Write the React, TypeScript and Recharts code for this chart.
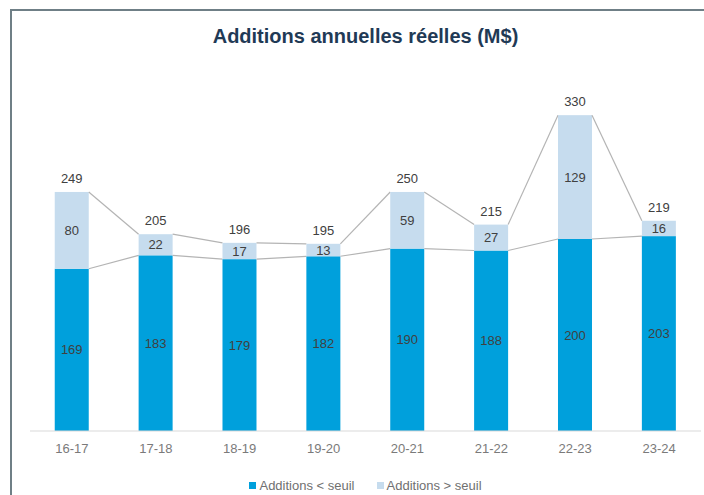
import React from 'react'
import { BarChart, Bar, XAxis, YAxis, LabelList } from 'recharts'

const CATEGORIES = ['16-17', '17-18', '18-19', '19-20', '20-21', '21-22', '22-23', '23-24']
const BELOW = [169, 183, 179, 182, 190, 188, 200, 203]
const ABOVE = [80, 22, 17, 13, 59, 27, 129, 16]
const TOTALS = [249, 205, 196, 195, 250, 215, 330, 219]
const SERIES_NAMES = ['Additions < seuil', 'Additions > seuil']

const W = 704
const H = 495
const MARGIN = { top: 95, right: 3, bottom: 34, left: 30 }
const X_AXIS_H = 30
const Y_MAX = 350
const PLOT_W = W - MARGIN.left - MARGIN.right
const PLOT_H = H - MARGIN.top - MARGIN.bottom - X_AXIS_H
const STEP = PLOT_W / CATEGORIES.length
const K = PLOT_H / Y_MAX

const BLUE = '#00a0dc'
const LIGHT = '#c6dcee'
const LINE = '#b4b4b4'
const FONT = '"Liberation Sans Narrow", "Liberation Sans", Arial, sans-serif'

const data = CATEGORIES.map((name, i) => ({
  name,
  below: BELOW[i],
  above: ABOVE[i],
  total: TOTALS[i],
}))

// rect plus the Excel-style series line to the next bar
const LowerShape = (props: any) => {
  const { x, y, width, height, index } = props
  const bottom = y + height
  const next = index < BELOW.length - 1 ? bottom - BELOW[index + 1] * K : null
  return (
    <g>
      <rect x={x} y={y} width={width} height={height} fill={BLUE} />
      {next !== null && (
        <line x1={x + width} y1={y} x2={x + STEP} y2={next} stroke={LINE} strokeWidth={1.2} />
      )}
    </g>
  )
}

const UpperShape = (props: any) => {
  const { x, y, width, height, index } = props
  const base = y + height + BELOW[index] * K
  const next =
    index < ABOVE.length - 1 ? base - (BELOW[index + 1] + ABOVE[index + 1]) * K : null
  return (
    <g>
      <rect x={x} y={y} width={width} height={height} fill={LIGHT} />
      {next !== null && (
        <line x1={x + width} y1={y} x2={x + STEP} y2={next} stroke={LINE} strokeWidth={1.2} />
      )}
    </g>
  )
}

const labelStyle = { fill: '#404040', fontSize: 13, fontFamily: FONT }

export default function App() {
  return (
    <div style={{ position: 'relative', width: W, height: H, overflow: 'hidden', background: '#fff' }}>
      <style>{'body{margin:0;overflow:hidden}'}</style>
      <div
        style={{
          position: 'absolute',
          left: 10,
          top: 9,
          width: 800,
          height: 600,
          border: '2px solid #6f7f86',
          boxSizing: 'border-box',
        }}
      />
      <div
        style={{
          position: 'absolute',
          left: MARGIN.left,
          width: PLOT_W,
          top: 25,
          textAlign: 'center',
          fontFamily: FONT,
          fontWeight: 'bold',
          fontSize: 20,
          color: '#1f3a56',
        }}
      >
        Additions annuelles réelles (M$)
      </div>
      <div style={{ position: 'absolute', left: 0, top: 0 }}>
        <BarChart width={W} height={H} data={data} margin={MARGIN} barCategoryGap="29.5%">
          <XAxis
            dataKey="name"
            height={X_AXIS_H}
            tickLine={false}
            axisLine={{ stroke: '#d9d9d9' }}
            tickMargin={7}
            tick={{ fill: '#7a7a7a', fontSize: 13, fontFamily: FONT }}
          />
          <YAxis hide domain={[0, Y_MAX]} />
          <Bar dataKey="below" stackId="a" fill={BLUE} shape={LowerShape} isAnimationActive={false}>
            <LabelList dataKey="below" position="center" style={labelStyle} />
          </Bar>
          <Bar dataKey="above" stackId="a" fill={LIGHT} shape={UpperShape} isAnimationActive={false}>
            <LabelList dataKey="above" position="center" style={labelStyle} />
            <LabelList dataKey="total" position="top" offset={9} style={labelStyle} />
          </Bar>
        </BarChart>
      </div>
      <div
        style={{
          position: 'absolute',
          left: MARGIN.left,
          width: PLOT_W,
          top: 478,
          display: 'flex',
          justifyContent: 'center',
          gap: 22,
          fontFamily: FONT,
          fontSize: 13,
          color: '#707070',
        }}
      >
        {SERIES_NAMES.map((s, i) => (
          <span key={s} style={{ display: 'flex', alignItems: 'center' }}>
            <span
              style={{
                width: 7,
                height: 7,
                background: i === 0 ? BLUE : LIGHT,
                marginRight: 3,
                display: 'inline-block',
              }}
            />
            {s}
          </span>
        ))}
      </div>
    </div>
  )
}
